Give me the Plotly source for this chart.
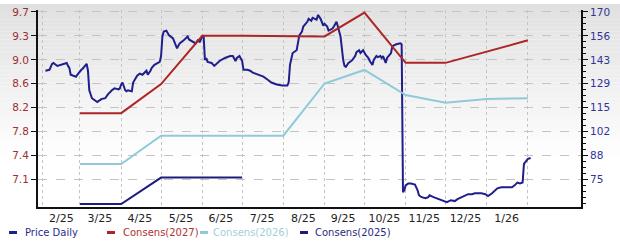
import plotly.graph_objects as go
import numpy as np

# ---------------- data ----------------
price_dates = [
    "2025-02-03", "2025-02-06", "2025-02-08", "2025-02-09", "2025-02-12", "2025-02-14", "2025-02-17",
    "2025-02-19", "2025-02-20", "2025-02-21", "2025-02-22", "2025-02-24", "2025-02-26", "2025-02-27",
    "2025-03-01", "2025-03-02", "2025-03-03", "2025-03-05", "2025-03-06", "2025-03-07", "2025-03-08",
    "2025-03-10", "2025-03-12", "2025-03-14", "2025-03-16", "2025-03-17", "2025-03-20", "2025-03-22",
    "2025-03-25", "2025-03-27", "2025-03-30", "2025-03-31", "2025-04-01", "2025-04-02", "2025-04-04",
    "2025-04-05", "2025-04-06", "2025-04-09", "2025-04-10", "2025-04-13", "2025-04-15", "2025-04-17",
    "2025-04-20", "2025-04-21", "2025-04-23", "2025-04-24", "2025-04-26", "2025-04-30", "2025-05-01",
    "2025-05-02", "2025-05-03", "2025-05-05", "2025-05-07", "2025-05-10", "2025-05-13", "2025-05-15",
    "2025-05-18", "2025-05-21", "2025-05-22", "2025-05-25", "2025-05-27", "2025-05-29", "2025-05-30",
    "2025-06-01", "2025-06-02", "2025-06-03", "2025-06-04", "2025-06-05", "2025-06-08", "2025-06-10",
    "2025-06-12", "2025-06-14", "2025-06-18", "2025-06-22", "2025-06-24", "2025-06-26", "2025-06-27",
    "2025-06-29", "2025-07-01", "2025-07-02", "2025-07-05", "2025-07-07", "2025-07-09", "2025-07-13",
    "2025-07-17", "2025-07-20", "2025-07-23", "2025-07-27", "2025-07-31", "2025-08-04", "2025-08-05",
    "2025-08-06", "2025-08-08", "2025-08-11", "2025-08-12", "2025-08-13", "2025-08-15", "2025-08-16",
    "2025-08-19", "2025-08-20", "2025-08-22", "2025-08-23", "2025-08-26", "2025-08-27", "2025-08-29",
    "2025-08-30", "2025-08-31", "2025-09-01", "2025-09-03", "2025-09-04", "2025-09-07", "2025-09-08",
    "2025-09-10", "2025-09-11", "2025-09-12", "2025-09-13", "2025-09-15", "2025-09-16", "2025-09-17",
    "2025-09-19", "2025-09-21", "2025-09-22", "2025-09-24", "2025-09-25", "2025-09-27", "2025-09-28",
    "2025-09-30", "2025-10-01", "2025-10-02", "2025-10-04", "2025-10-05", "2025-10-07", "2025-10-08",
    "2025-10-10", "2025-10-11", "2025-10-13", "2025-10-14", "2025-10-15", "2025-10-16", "2025-10-17",
    "2025-10-18", "2025-10-19", "2025-10-21", "2025-10-22", "2025-10-23", "2025-10-25", "2025-10-28",
    "2025-10-29", "2025-10-30", "2025-10-31", "2025-11-01", "2025-11-03", "2025-11-05", "2025-11-08",
    "2025-11-10", "2025-11-11", "2025-11-13", "2025-11-16", "2025-11-18", "2025-11-19", "2025-11-22",
    "2025-11-24", "2025-11-27", "2025-11-29", "2025-12-02", "2025-12-05", "2025-12-08", "2025-12-10",
    "2025-12-13", "2025-12-16", "2025-12-18", "2025-12-21", "2025-12-23", "2025-12-25", "2025-12-28",
    "2025-12-31", "2026-01-02", "2026-01-05", "2026-01-07", "2026-01-09", "2026-01-12", "2026-01-15",
    "2026-01-17", "2026-01-20", "2026-01-22", "2026-01-24", "2026-01-26", "2026-01-28", "2026-01-29",
    "2026-01-30", "2026-02-01", "2026-02-03",
]
price_values = [
    136.7, 137.2, 140.6, 141.1, 139.4, 140.0, 140.6,
    141.1, 139.4, 138.3, 134.4, 133.9, 133.3, 134.4,
    136.7, 137.2, 137.8, 140.0, 140.6, 136.7, 125.6,
    121.1, 120.0, 118.9, 120.0, 120.6, 121.1, 123.3,
    125.6, 126.7, 126.1, 126.7, 128.9, 130.0, 125.6,
    125.0, 125.6, 125.0, 130.0, 133.9, 135.0, 134.4,
    136.7, 134.4, 136.7, 138.3, 140.0, 141.7, 145.0,
    156.1, 158.9, 159.4, 156.7, 155.0, 149.4, 152.2,
    153.9, 156.1, 154.4, 152.8, 152.2, 154.4, 152.8,
    156.1, 156.7, 142.8, 143.9, 141.7, 141.1, 139.4,
    140.6, 142.2, 143.9, 145.0, 145.0, 142.2, 143.9,
    145.0, 142.2, 137.2, 137.2, 136.7, 135.6, 134.4,
    133.3, 131.7, 130.0, 128.9, 128.3, 128.3, 130.0,
    140.0, 146.7, 148.3, 153.9, 156.7, 158.9, 161.7,
    164.4, 166.1, 165.0, 166.7, 165.6, 168.3, 166.1,
    164.4, 162.2, 163.3, 161.7, 159.4, 160.6, 161.7,
    164.4, 161.7, 158.3, 156.1, 142.8, 139.4, 138.9,
    141.1, 142.2, 142.8, 145.0, 147.2, 148.3, 146.7,
    148.3, 146.7, 145.6, 143.9, 142.2, 140.0, 142.8,
    145.0, 144.4, 145.0, 143.9, 145.0, 142.8, 141.1,
    143.9, 145.0, 146.7, 150.6, 151.1, 151.7, 152.2,
    151.7, 67.8, 68.9, 71.7, 72.8, 72.8, 72.2,
    68.9, 66.1, 65.0, 64.4, 65.0, 66.1, 65.0,
    64.4, 63.9, 63.3, 62.2, 63.3, 62.8, 63.9,
    65.0, 66.1, 66.7, 66.7, 67.2, 67.2, 67.2,
    66.7, 65.6, 67.2, 68.9, 70.0, 70.6, 70.6,
    70.6, 70.6, 71.7, 73.3, 72.8, 73.3, 83.9,
    85.0, 86.7, 87.2,
]

cons_dates = ["2025-03-01", "2025-04-01", "2025-05-01", "2025-06-01", "2025-07-01", "2025-08-01",
              "2025-09-01", "2025-10-01", "2025-11-01", "2025-12-01", "2026-01-01", "2026-02-01"]
cons_2027 = [8.13, 8.13, 8.58, 9.33, 9.33, 9.33, 9.32, 9.69, 8.91, 8.91, 9.08, 9.26]
cons_2026 = [7.34, 7.34, 7.78, 7.78, 7.78, 7.78, 8.59, 8.80, 8.41, 8.29, 8.35, 8.36]
cons_2025_dates = ["2025-03-01", "2025-04-01", "2025-05-01", "2025-06-01", "2025-07-01"]
cons_2025 = [6.72, 6.72, 7.13, 7.13, 7.13]

eps_tickvals = [7.1, 7.4714, 7.8429, 8.2143, 8.5857, 8.9571, 9.3286, 9.7]
eps_ticktext = ["7.1", "7.4", "7.8", "8.2", "8.6", "9.0", "9.3", "9.7"]
price_tickvals = [75, 88.571, 102.143, 115.714, 129.286, 142.857, 156.429, 170]
price_ticktext = ["75", "88", "102", "115", "129", "143", "156", "170"]

month_label_pos = ["2025-02-15", "2025-03-16", "2025-04-15", "2025-05-16", "2025-06-15", "2025-07-16",
                   "2025-08-16", "2025-09-15", "2025-10-16", "2025-11-15", "2025-12-16", "2026-01-16"]
month_labels = ["2/25", "3/25", "4/25", "5/25", "6/25", "7/25", "8/25", "9/25", "10/25", "11/25",
                "12/25", "1/26"]
month_starts = ["2025-02-01", "2025-03-01", "2025-04-01", "2025-05-01", "2025-06-01", "2025-07-01",
                "2025-08-01", "2025-09-01", "2025-10-01", "2025-11-01", "2025-12-01", "2026-01-01",
                "2026-02-01"]

legend_names = ["Price Daily", "Consens(2027)", "Consens(2026)", "Consens(2025)"]

# ---------------- style ----------------
C_PRICE = "#1e1e8c"
C_2027 = "#ad2626"
C_2026 = "#8ecad9"
C_2025 = "#1c1c7e"
FONT = "DejaVu Sans"

W, H = 620, 245
L, R, T, B = 38, 39, 6, 38
PH = H - T - B
PW = W - L - R

fig = go.Figure()
fig.add_trace(go.Scatter(x=price_dates, y=price_values, mode="lines", yaxis="y",
                         line=dict(color=C_PRICE, width=2), name=legend_names[0], showlegend=False))
fig.add_trace(go.Scatter(x=cons_dates, y=cons_2027, mode="lines", yaxis="y2",
                         line=dict(color=C_2027, width=2), name=legend_names[1], showlegend=False))
fig.add_trace(go.Scatter(x=cons_dates, y=cons_2026, mode="lines", yaxis="y2",
                         line=dict(color=C_2026, width=2), name=legend_names[2], showlegend=False))
fig.add_trace(go.Scatter(x=cons_2025_dates, y=cons_2025, mode="lines", yaxis="y2",
                         line=dict(color=C_2025, width=2), name=legend_names[3], showlegend=False))

# background gradient (style only)
shapes = []
N = 40
for i in range(N):
    py0 = i * 4
    py1 = py0 + 4
    frac = (py0 + 2) / (N * 4)
    c = int(round(224 + (255 - 224) * frac))
    shapes.append(dict(type="rect", xref="paper", yref="paper",
                       x0=-L / PW - 0.01, x1=(W - L) / PW + 0.01,
                       y0=(H - B - py1) / PH, y1=(H - B - py0) / PH,
                       fillcolor=f"rgb({c},{c},{c})", line=dict(width=0), layer="below"))

# legend drawn as short dashes + text
legend_colors = [C_PRICE, C_2027, C_2026, C_2025]
legend_dash_x = [13, 111, 204, 304]
legend_text_x = [23, 121, 211, 313]
legend_text_colors = ["#2b2b8c", "#b03232", "#9fd0dc", "#2b2b80"]
ly = (H - B - 233) / PH
annotations = []
for name, col, dx, tx, tcol in zip(legend_names, legend_colors, legend_dash_x, legend_text_x, legend_text_colors):
    shapes.append(dict(type="line", xref="paper", yref="paper",
                       x0=(dx - 4 - L) / PW, x1=(dx + 4 - L) / PW, y0=ly, y1=ly,
                       line=dict(color=col, width=3)))
    annotations.append(dict(xref="paper", yref="paper", x=(tx - L) / PW, y=ly,
                            xanchor="left", yanchor="middle", showarrow=False, text=name,
                            font=dict(family=FONT, size=10, color=tcol)))

minor_price = list(np.arange(price_tickvals[0] - 4 * 3.39286, 171.2, 3.39286))

fig.update_layout(
    width=W, height=H,
    margin=dict(l=L, r=R, t=T, b=B, pad=0),
    paper_bgcolor="white", plot_bgcolor="rgba(0,0,0,0)",
    shapes=shapes, annotations=annotations,
    showlegend=False,
    xaxis=dict(
        type="date", range=["2025-01-28 10:00", "2026-03-12 22:00"],
        tickmode="array", tickvals=month_label_pos, ticktext=month_labels,
        showgrid=False, ticks="", showline=True, linecolor="#111", linewidth=2,
        tickfont=dict(family=FONT, size=11, color="#222"),
        minor=dict(tickmode="array", tickvals=month_starts, showgrid=True,
                   gridcolor="#c4c4c4", griddash="dot", gridwidth=1, ticks=""),
        zeroline=False, fixedrange=True,
    ),
    yaxis=dict(
        side="right", range=[59.44, 171.1],
        tickmode="array", tickvals=price_tickvals, ticktext=price_ticktext,
        showgrid=True, gridcolor="#c4c4c4", griddash="dash", gridwidth=1,
        ticks="outside", ticklen=5, tickwidth=1, tickcolor="#111",
        minor=dict(tickmode="array", tickvals=minor_price, ticks="outside", ticklen=3,
                   tickcolor="#111", showgrid=False),
        showline=True, linecolor="#111", linewidth=2, zeroline=False,
        tickfont=dict(family=FONT, size=10.5, color="#333399"),
    ),
    yaxis2=dict(
        side="left", overlaying="y", range=[6.674, 9.730],
        tickmode="array", tickvals=eps_tickvals, ticktext=eps_ticktext,
        showgrid=False, ticks="outside", ticklen=5, tickwidth=1, tickcolor="#111",
        showline=True, linecolor="#111", linewidth=2, zeroline=False,
        tickfont=dict(family=FONT, size=10.5, color="#9b2f2f"),
    ),
)

fig.write_html("out.html")
